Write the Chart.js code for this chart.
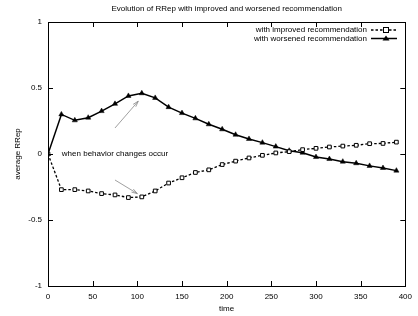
<!DOCTYPE html>
<html>
<head>
<meta charset="utf-8">
<script src="https://cdn.jsdelivr.net/npm/chart.js@4.4.0/dist/chart.umd.min.js"></script>
<style>
  html, body { margin: 0; padding: 0; background: #fff; }
  #wrap { width: 418px; height: 316px; }
</style>
</head>
<body>
<div id="wrap"><canvas id="rrep"></canvas></div>
<script>
// time steps (every 15)
const times = [0, 15, 30, 45, 60, 75, 90, 105, 120, 135, 150, 165, 180, 195, 210,
               225, 240, 255, 270, 285, 300, 315, 330, 345, 360, 375, 390];

const improved = [0, -0.27, -0.27, -0.28, -0.30, -0.31, -0.33, -0.325, -0.28, -0.22, -0.18, -0.14, -0.12, -0.08, -0.054,
                  -0.03, -0.01, 0.008, 0.018, 0.033, 0.043, 0.053, 0.06, 0.066, 0.078, 0.08, 0.09];

const worsened = [0, 0.30, 0.255, 0.275, 0.325, 0.38, 0.44, 0.46, 0.425, 0.355, 0.31, 0.27, 0.225, 0.187, 0.146,
                  0.114, 0.086, 0.056, 0.025, 0.01, -0.023, -0.038, -0.058, -0.07, -0.09, -0.106, -0.126];

const xTicks = [0, 50, 100, 150, 200, 250, 300, 350, 400];
const yTicks = [-1, -0.5, 0, 0.5, 1];

const chartTitle = 'Evolution of RRep with improved and worsened recommendation';
const seriesNames = ['with improved recommendation', 'with worsened recommendation'];
const noteText = 'when behavior changes occur';
// annotation arrows, data coords [x0, y0, x1, y1]
const arrows = [[75, -0.197, 100, -0.30], [75, 0.197, 101, 0.40]];
const notePos = [15.5, 0];

const FONT = 'Liberation Sans, Arial, sans-serif';

function toXY(points) {
    return points.map((v, i) => ({ x: times[i], y: v }));
}

// gnuplot-ish frame, inward ticks, title, annotation and key
const gnuFrame = {
    id: 'gnuFrame',
    afterDraw(chart) {
        const ctx = chart.ctx;
        const a = chart.chartArea;
        const xs = chart.scales.x, ys = chart.scales.y;
        ctx.save();
        ctx.strokeStyle = '#000';
        ctx.lineWidth = 1;
        ctx.strokeRect(Math.round(a.left) + 0.5, Math.round(a.top) + 0.5,
            Math.round(a.right - a.left), Math.round(a.bottom - a.top));
        ctx.beginPath();
        xTicks.forEach(t => {
            const px = Math.round(xs.getPixelForValue(t)) + 0.5;
            ctx.moveTo(px, a.bottom); ctx.lineTo(px, a.bottom - 5);
            ctx.moveTo(px, a.top); ctx.lineTo(px, a.top + 5);
        });
        yTicks.forEach(t => {
            const py = Math.round(ys.getPixelForValue(t)) + 0.5;
            ctx.moveTo(a.left, py); ctx.lineTo(a.left + 5, py);
            ctx.moveTo(a.right, py); ctx.lineTo(a.right - 5, py);
        });
        ctx.stroke();

        ctx.fillStyle = '#000';
        ctx.font = '8px ' + FONT;
        ctx.textBaseline = 'middle';

        // title over the plot area
        ctx.textAlign = 'center';
        ctx.fillText(chartTitle, (a.left + a.right) / 2, 9);

        // label
        ctx.textAlign = 'left';
        ctx.fillText(noteText, xs.getPixelForValue(notePos[0]), ys.getPixelForValue(notePos[1]));

        // arrows
        ctx.strokeStyle = '#888';
        ctx.lineWidth = 0.8;
        arrows.forEach(ar => {
            const x0 = xs.getPixelForValue(ar[0]), y0 = ys.getPixelForValue(ar[1]);
            const x1 = xs.getPixelForValue(ar[2]), y1 = ys.getPixelForValue(ar[3]);
            const ang = Math.atan2(y1 - y0, x1 - x0);
            ctx.beginPath();
            ctx.moveTo(x0, y0); ctx.lineTo(x1, y1);
            ctx.moveTo(x1 - 6 * Math.cos(ang - 0.3), y1 - 6 * Math.sin(ang - 0.3));
            ctx.lineTo(x1, y1);
            ctx.lineTo(x1 - 6 * Math.cos(ang + 0.3), y1 - 6 * Math.sin(ang + 0.3));
            ctx.stroke();
        });

        // key
        const rows = [30, 38.5];
        ctx.textAlign = 'right';
        ctx.fillStyle = '#000';
        seriesNames.forEach((name, i) => {
            ctx.fillText(name, 367, rows[i]);
        });
        ctx.strokeStyle = '#000';
        ctx.lineWidth = 1.3;
        ctx.setLineDash([2.5, 2]);
        ctx.beginPath(); ctx.moveTo(371, rows[0]); ctx.lineTo(397, rows[0]); ctx.stroke();
        ctx.setLineDash([]);
        ctx.fillStyle = '#fff';
        ctx.fillRect(383.5, rows[0] - 2.5, 5, 5);
        ctx.lineWidth = 1;
        ctx.strokeRect(383.5, rows[0] - 2.5, 5, 5);
        ctx.lineWidth = 1.5;
        ctx.beginPath(); ctx.moveTo(371, rows[1]); ctx.lineTo(397, rows[1]); ctx.stroke();
        ctx.fillStyle = '#000';
        ctx.beginPath();
        ctx.moveTo(386, rows[1] - 3); ctx.lineTo(389.5, rows[1] + 2); ctx.lineTo(382.5, rows[1] + 2);
        ctx.closePath(); ctx.fill();
        ctx.restore();
    }
};

const ctx = document.getElementById('rrep');
new Chart(ctx, {
    type: 'line',
    data: {
        datasets: [
            {
                label: seriesNames[0],
                data: toXY(improved),
                borderColor: '#000',
                borderWidth: 1.3,
                borderDash: [2.5, 2],
                pointStyle: 'rect',
                pointRadius: 2.6,
                pointBackgroundColor: '#fff',
                pointBorderColor: '#000',
                pointBorderWidth: 1,
                tension: 0
            },
            {
                label: seriesNames[1],
                data: toXY(worsened),
                borderColor: '#000',
                borderWidth: 1.5,
                pointStyle: 'triangle',
                pointRadius: 3,
                pointBackgroundColor: '#000',
                pointBorderColor: '#000',
                pointBorderWidth: 0.5,
                tension: 0
            }
        ]
    },
    options: {
        responsive: true,
        maintainAspectRatio: false,
        animation: false,
        layout: { padding: { left: 0, right: 12, top: 22, bottom: 0 } },
        scales: {
            x: {
                type: 'linear',
                min: 0,
                max: 400,
                afterBuildTicks: s => { s.ticks = xTicks.map(v => ({ value: v })); },
                afterFit: s => { s.height = 30; },
                grid: { display: false, drawTicks: false },
                border: { display: false },
                ticks: { color: '#000', padding: 6, font: { size: 8, family: FONT } },
                title: {
                    display: true, text: 'time', color: '#000',
                    font: { size: 8, family: FONT }, padding: { top: 0, bottom: 2 }
                }
            },
            y: {
                type: 'linear',
                min: -1,
                max: 1,
                afterBuildTicks: s => { s.ticks = yTicks.map(v => ({ value: v })); },
                afterFit: s => { s.width = 48; },
                grid: { display: false, drawTicks: false },
                border: { display: false },
                ticks: {
                    color: '#000', padding: 6, font: { size: 8, family: FONT },
                    callback: v => String(v)
                },
                title: {
                    display: true, text: 'average RRep', color: '#000',
                    font: { size: 8, family: FONT }, padding: { top: 13, bottom: 0 }
                }
            }
        },
        plugins: {
            legend: { display: false },
            tooltip: { enabled: false },
            title: { display: false }
        }
    },
    plugins: [gnuFrame]
});
</script>
</body>
</html>
